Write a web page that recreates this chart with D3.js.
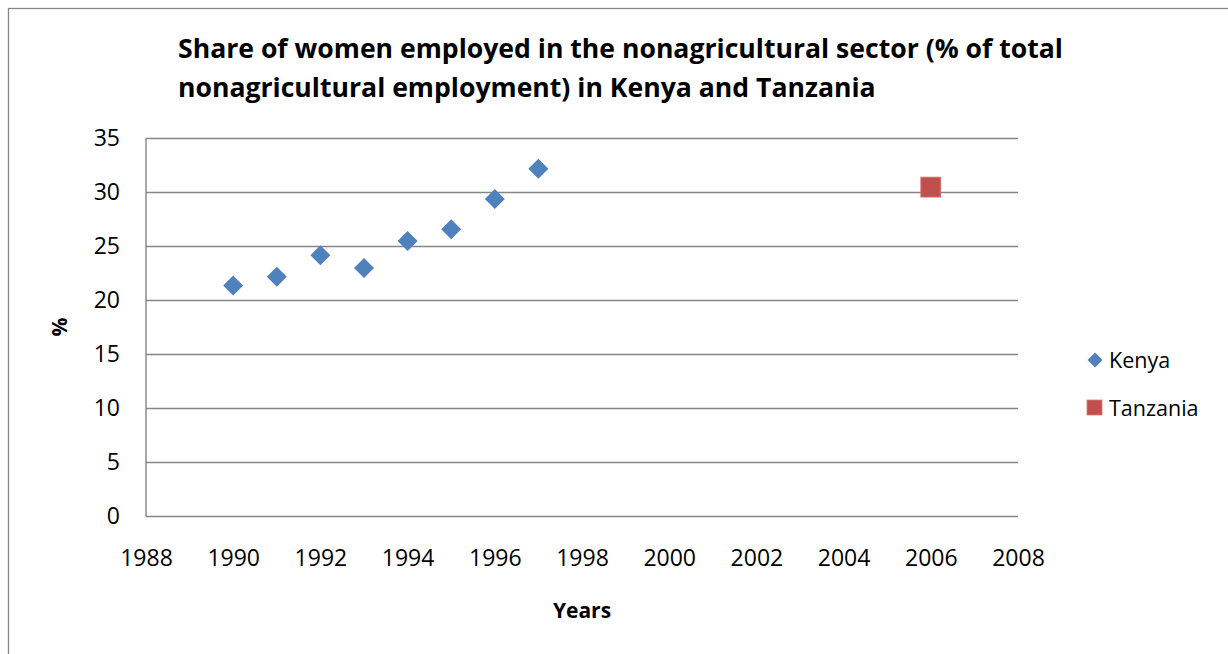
<!DOCTYPE html>
<html>
<head>
<meta charset="utf-8">
<script src="https://cdn.jsdelivr.net/npm/d3@7"></script>
<style>
  body { margin: 0; background: #fff; }
  text { font-family: "Open Sans", "Liberation Sans", sans-serif; fill: #000; }
</style>
</head>
<body>
<div id="chart"></div>
<script>
const WIDTH = 1228;
const HEIGHT = 654;

// data
const kenyaYears = [1990, 1991, 1992, 1993, 1994, 1995, 1996, 1997];
const kenyaValues = [21.4, 22.2, 24.2, 23.0, 25.5, 26.6, 29.4, 32.2];
const tanzaniaYears = [2006];
const tanzaniaValues = [30.5];
const xTicks = [1988, 1990, 1992, 1994, 1996, 1998, 2000, 2002, 2004, 2006, 2008];
const yTicks = [0, 5, 10, 15, 20, 25, 30, 35];
const titleLines = [
  "Share of women employed in the nonagricultural sector (% of total",
  "nonagricultural employment) in Kenya and Tanzania"
];

const MARGINS = {left: 146, right: 210, top: 138.5, bottom: 137.5};

const svg = d3.select("#chart")
  .append("svg")
  .attr("width", WIDTH)
  .attr("height", HEIGHT);

// outer chart frame
svg.append("rect")
  .attr("x", 8.5).attr("y", 8.5)
  .attr("width", WIDTH).attr("height", HEIGHT)
  .attr("fill", "none")
  .attr("stroke", "#868686")
  .attr("stroke-width", 1.3);

const X_SCALE = d3.scaleLinear()
  .domain([1988, 2008])
  .range([MARGINS.left, WIDTH - MARGINS.right]);

const Y_SCALE = d3.scaleLinear()
  .domain([0, 35])
  .range([HEIGHT - MARGINS.bottom, MARGINS.top]);

// gridlines
svg.append("g")
  .selectAll("line")
  .data(yTicks)
  .enter()
  .append("line")
    .attr("x1", X_SCALE(1988))
    .attr("x2", X_SCALE(2008))
    .attr("y1", d => Y_SCALE(d))
    .attr("y2", d => Y_SCALE(d))
    .attr("stroke", "#868686")
    .attr("stroke-width", 1.4);

// y axis line
svg.append("line")
  .attr("x1", X_SCALE(1988)).attr("x2", X_SCALE(1988))
  .attr("y1", Y_SCALE(35)).attr("y2", Y_SCALE(0))
  .attr("stroke", "#868686")
  .attr("stroke-width", 1.4);

// y tick labels
const yAxis = d3.axisLeft(Y_SCALE).tickValues(yTicks).tickSize(0).tickPadding(26);
svg.append("g")
  .attr("transform", `translate(${X_SCALE(1988)},0)`)
  .call(yAxis)
  .call(g => g.select(".domain").remove())
  .selectAll("text")
    .style("font-family", "'Open Sans', sans-serif")
    .style("font-size", "23px")
    .attr("fill", "#000");

// x tick labels
const xAxis = d3.axisBottom(X_SCALE).tickValues(xTicks).tickFormat(d3.format("d")).tickSize(0).tickPadding(33);
svg.append("g")
  .attr("transform", `translate(0,${Y_SCALE(0)})`)
  .call(xAxis)
  .call(g => g.select(".domain").remove())
  .selectAll("text")
    .style("font-family", "'Open Sans', sans-serif")
    .style("font-size", "23px")
    .attr("fill", "#000");

// title
svg.append("g")
  .selectAll("text")
  .data(titleLines)
  .enter()
  .append("text")
    .attr("x", 178)
    .attr("y", (d, i) => 58 + i * 39)
    .style("font-size", "26.6px")
    .style("font-weight", "bold")
    .text(d => d);

// axis titles
svg.append("text")
  .attr("x", 582).attr("y", 618)
  .attr("text-anchor", "middle")
  .style("font-size", "21px")
  .style("font-weight", "bold")
  .text("Years");

svg.append("text")
  .attr("transform", "translate(67,327) rotate(-90)")
  .attr("text-anchor", "middle")
  .style("font-size", "21px")
  .style("font-weight", "bold")
  .text("%");

// marks
const diamond = d3.symbol().type(d3.symbolSquare).size(200);

svg.append("g")
  .selectAll("path")
  .data(kenyaYears)
  .enter()
  .append("path")
    .attr("d", diamond)
    .attr("transform", (d, i) => `translate(${X_SCALE(d)},${Y_SCALE(kenyaValues[i])}) rotate(45)`)
    .attr("fill", "#4F81BD");

svg.append("g")
  .selectAll("rect")
  .data(tanzaniaYears)
  .enter()
  .append("rect")
    .attr("x", d => X_SCALE(d) - 10)
    .attr("y", (d, i) => Y_SCALE(tanzaniaValues[i]) - 10)
    .attr("width", 20).attr("height", 20)
    .attr("fill", "#C0504D")
    .attr("stroke", "#D77B78")
    .attr("stroke-width", 0.8);

// legend
const legend = svg.append("g");
legend.append("path")
  .attr("d", d3.symbol().type(d3.symbolSquare).size(110))
  .attr("transform", "translate(1095,360) rotate(45)")
  .attr("fill", "#4F81BD");
legend.append("text")
  .attr("x", 1109).attr("y", 368)
  .style("font-size", "21.5px")
  .text("Kenya");
legend.append("rect")
  .attr("x", 1087).attr("y", 400)
  .attr("width", 15).attr("height", 15)
  .attr("fill", "#C0504D")
  .attr("stroke", "#D77B78")
  .attr("stroke-width", 0.8);
legend.append("text")
  .attr("x", 1109).attr("y", 416)
  .style("font-size", "21.5px")
  .text("Tanzania");
</script>
</body>
</html>
